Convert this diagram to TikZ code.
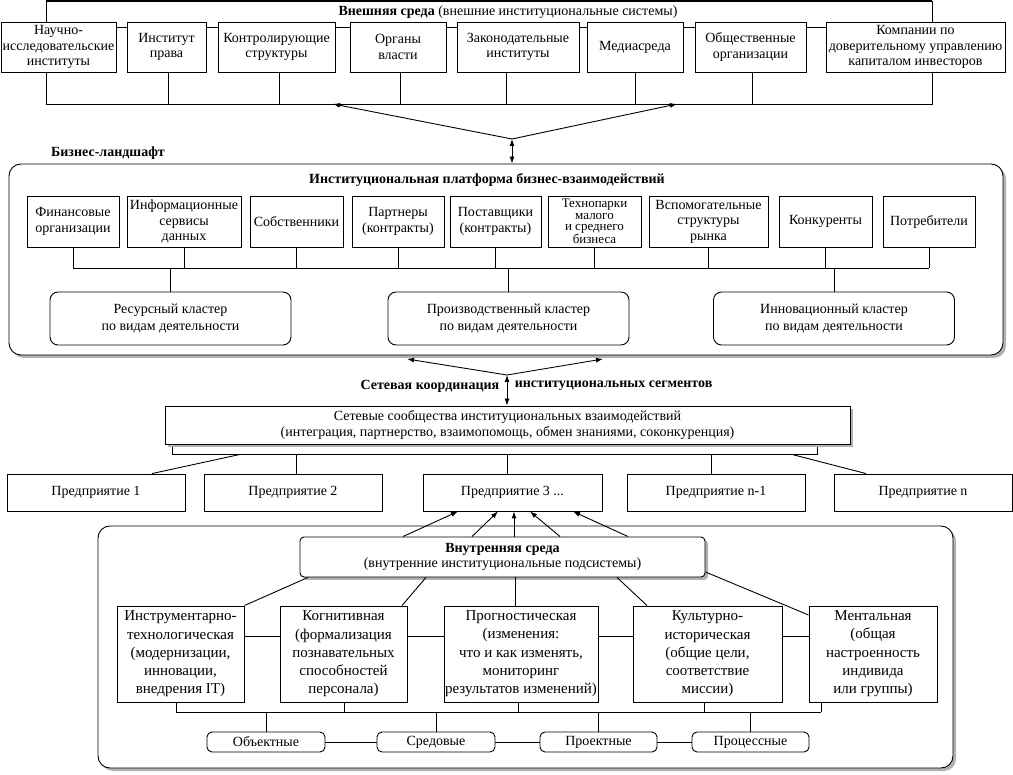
\documentclass[tikz,border=0pt]{standalone}
\usepackage{fontspec}
\setmainfont{Liberation Serif}
\usetikzlibrary{shapes,arrows.meta,positioning,shadows,calc}

\begin{document}
\begin{tikzpicture}[x=1pt, y=-1pt, line width=0.9pt,
    every node/.style={font=\fontsize{14}{15.5}\selectfont},
    box/.style={rectangle, draw, fill=white, align=center, inner sep=1pt},
    extbox/.style={box, minimum height=50pt},
    platbox/.style={box, minimum height=51pt},
    cluster/.style={box, rounded corners=8pt, minimum width=241pt, minimum height=53pt, font=\fontsize{14}{17}\selectfont},
    firm/.style={box, minimum width=178pt, minimum height=37pt},
    subsys/.style={box, minimum height=96pt, font=\fontsize{15}{18.3}\selectfont},
    kind/.style={box, rounded corners=5pt, minimum width=117pt, minimum height=20pt, inner sep=0pt},
    panel/.style={rectangle, draw, fill=white, rounded corners=12pt, drop shadow={shadow xshift=3pt, shadow yshift=-3pt, fill=gray!60, opacity=1}},
    head/.style={font=\bfseries\fontsize{14}{15.5}\selectfont},
    link/.style={-{Latex[length=7pt,width=5pt]}},
    twoway/.style={{Latex[length=7pt,width=5pt]}-{Latex[length=7pt,width=5pt]}}
]
\useasboundingbox (0,0) rectangle (1013,775);

% External environment
\node[rectangle, draw, minimum width=886pt, minimum height=103pt, inner sep=0pt] (extenv) at (489,52.5) {};
\draw[line width=2pt] (extenv.north west) -- (extenv.north east);
\node (exttitle) at (508,12) {\textbf{Внешняя среда} (внешние институциональные системы)};
\node[extbox, minimum width=115pt] (nii) at (58.5,47) {Научно-\\исследовательские\\институты};
\node[extbox, minimum width=79pt] (law) at (166.5,47) {Институт\\права};
\node[extbox, minimum width=117pt] (ctrl) at (276.5,47) {Контролирующие\\структуры};
\node[extbox, minimum width=96pt] (gov) at (398,47) {Органы\\власти};
\node[extbox, minimum width=122pt] (leg) at (518,47) {Законодательные\\институты};
\node[extbox, minimum width=96pt] (media) at (635,47) {Медиасреда};
\node[extbox, minimum width=111pt] (soc) at (750.5,47) {Общественные\\организации};
\node[extbox, minimum width=179pt] (trust) at (915.5,47) {Компании по\\доверительному управлению\\капиталом инвесторов};
\foreach \a/\b in {nii/law, law/ctrl, ctrl/gov, gov/leg, leg/media, media/soc, soc/trust}
    \draw (\a.east |- 0,27) -- (\b.west |- 0,27);
\foreach \n/\x in {law/168, ctrl/279, gov/400, leg/506, media/635, soc/752}
    \draw (\n.south -| \x,0) -- (\x,0 |- extenv.south);

% Business landscape
\node[panel, minimum width=994pt, minimum height=191pt] (land) at (506,259.5) {};
\node[head] (landtitle) at (108,153) {Бизнес-ландшафт};
\node[head] (plattitle) at (487,180) {Институциональная платформа бизнес-взаимодействий};
\coordinate (hub1) at (512,139);
\coordinate (extL) at (333,104);
\coordinate (extR) at (677,104);
\draw[link] (hub1) -- (extL);
\draw[link] (hub1) -- (extR);
\draw[twoway] (hub1) -- (hub1 |- land.north);

\node[platbox, minimum width=92pt] (fin) at (73,221.5) {Финансовые\\организации};
\node[platbox, minimum width=114pt] (info) at (184,221.5) {Информационные\\сервисы\\данных};
\node[platbox, minimum width=93pt] (own) at (296.5,221.5) {Собственники};
\node[platbox, minimum width=92pt] (part) at (398,221.5) {Партнеры\\(контракты)};
\node[platbox, minimum width=91pt] (supp) at (495.5,221.5) {Поставщики\\(контракты)};
\node[platbox, minimum width=93pt, font=\fontsize{13}{11.3}\selectfont] (tech) at (594.5,221.5) {Технопарки\\малого\\и среднего\\бизнеса};
\node[platbox, minimum width=119pt] (aux) at (708.5,221.5) {Вспомогательные\\структуры\\рынка};
\node[platbox, minimum width=93pt] (comp) at (825.5,221.5) {Конкуренты};
\node[platbox, minimum width=92pt] (cons) at (929,221.5) {Потребители};
\coordinate (pbus) at (0,268);
\foreach \n in {fin, info, own, part, supp, tech, aux, comp, cons}
    \draw (\n.south) -- (\n.south |- pbus);
\draw (fin.south |- pbus) -- (cons.south |- pbus);

\node[cluster] (res) at (170.5,318.5) {Ресурсный кластер\\по видам деятельности};
\node[cluster] (prod) at (508.5,318.5) {Производственный кластер\\по видам деятельности};
\node[cluster] (innov) at (834,318.5) {Инновационный кластер\\по видам деятельности};
\foreach \n in {res, prod, innov}
    \draw (\n.north) -- (\n.north |- pbus);

% Network coordination
\coordinate (hub2) at (507,375);
\coordinate (landL) at (407,359);
\coordinate (landR) at (603,359);
\draw[link] (hub2) -- (landL);
\draw[link] (hub2) -- (landR);
\node[head, anchor=east] (coordL) at (503,386) {Сетевая координация};
\node[head, anchor=west] (coordR) at (511,386) {институциональных сегментов};
\node[box, minimum width=645pt, minimum height=10pt, inner sep=0pt] (strip) at (494.5,449) {};
\node[box, minimum width=685pt, minimum height=38pt, drop shadow={shadow xshift=3pt, shadow yshift=-3pt, fill=gray!60, opacity=1}] (net) at (507.5,425)
    {Сетевые сообщества институциональных взаимодействий\\(интеграция, партнерство, взаимопомощь, обмен знаниями, соконкуренция)};
\draw[twoway] (hub2) -- (hub2 |- net.north);

\node[firm] (e1) at (96,492.5) {Предприятие 1};
\node[firm] (e2) at (293,492.5) {Предприятие 2};
\node[firm, minimum width=179pt] (e3) at (512.5,492.5) {Предприятие 3 ...};
\node[firm] (e4) at (716,492.5) {Предприятие n-1};
\node[firm] (e5) at (923,492.5) {Предприятие n};
\draw (strip.south -| 240,0) -- (e1.north -| 152,0);
\draw (strip.south -| 296,0) -- (e2.north -| 296,0);
\draw (strip.south -| 507,0) -- (e3.north -| 507,0);
\draw (strip.south -| 711,0) -- (e4.north -| 711,0);
\draw (strip.south -| 792,0) -- (e5.north -| 866,0);

% Internal environment
\node[panel, minimum width=855pt, minimum height=242pt] (intenv) at (525.5,647) {};
\node[box, rounded corners=4pt, minimum width=405pt, minimum height=40pt, drop shadow={shadow xshift=3pt, shadow yshift=-3pt, fill=gray!60, opacity=1}] (inner) at (502.5,557)
    {\textbf{Внутренняя среда}\\(внутренние институциональные подсистемы)};
\foreach \a/\b in {403/458, 472/498, 514/514, 560/530, 628/573}
    \draw[link] (inner.north -| \a,0) -- (e3.south -| \b,0);

\node[subsys, minimum width=127pt] (s1) at (180.5,654) {Инструментарно-\\технологическая\\(модернизации,\\инновации,\\внедрения IT)};
\node[subsys, minimum width=127pt] (s2) at (343.5,654) {Когнитивная\\(формализация\\познавательных\\способностей\\персонала)};
\node[subsys, minimum width=150pt] (s3) at (521,654) {Прогностическая\\(изменения:\\что и как изменять,\\мониторинг\\результатов изменений)};
\node[subsys, minimum width=149pt] (s4) at (707.5,654) {Культурно-\\историческая\\(общие цели,\\соответствие\\миссии)};
\node[subsys, minimum width=128pt] (s5) at (873,654) {Ментальная\\(общая\\настроенность\\индивида\\или группы)};
\draw (inner.south -| 308,0) -- (s1.north east);
\draw (inner.south -| 426,0) -- (s2.north -| 402,0);
\draw (inner.south -| 515,0) -- (s3.north -| 515,0);
\draw (inner.south -| 617,0) -- (s4.north -| 647,0);
\draw (inner.east |- 0,572) -- (s5.west |- 0,615);
\foreach \a/\b in {s1/s2, s2/s3, s3/s4, s4/s5}
    \draw (\a.east |- 0,636) -- (\b.west |- 0,636);
\coordinate (ibus) at (0,712);
\foreach \n/\x in {s1/176, s2/344, s3/518, s4/704, s5/821}
    \draw (\n.south -| \x,0) -- (\x,0 |- ibus);
\draw (176,0 |- ibus) -- (821,0 |- ibus);

\node[kind, minimum width=118pt] (b1) at (266,742) {Объектные};
\node[kind, minimum width=118pt] (b2) at (436,742) {Средовые};
\node[kind] (b3) at (598.5,742) {Проектные};
\node[kind] (b4) at (750.5,742) {Процессные};
\foreach \n in {b1, b2, b3, b4}
    \draw (\n.north) -- (\n.north |- ibus);
\foreach \a/\b in {b1/b2, b2/b3, b3/b4}
    \draw (\a) -- (\b);

\end{tikzpicture}
\end{document}
